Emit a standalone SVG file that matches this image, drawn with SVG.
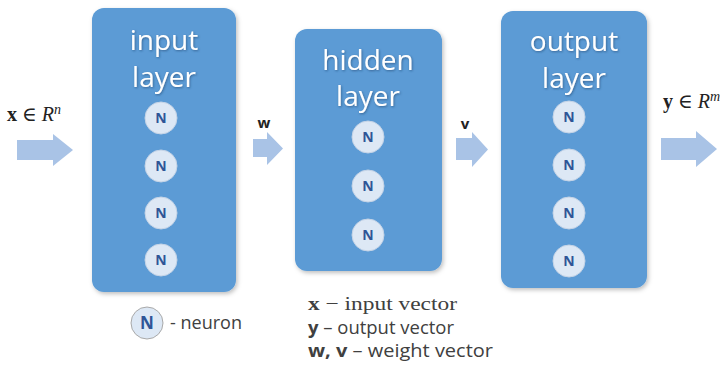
<svg xmlns="http://www.w3.org/2000/svg" width="722" height="367" viewBox="0 0 722 367">
<defs>
<filter id="sh" x="-10%" y="-10%" width="130%" height="130%"><feDropShadow dx="1.5" dy="2" stdDeviation="2" flood-color="#000" flood-opacity="0.25"/></filter>
<filter id="tsh" x="-10%" y="-10%" width="130%" height="140%"><feDropShadow dx="0.8" dy="1" stdDeviation="0.8" flood-color="#1f3f6a" flood-opacity="0.6"/></filter>
<style>
.box{fill:#5b9bd5;filter:url(#sh)}
.title{font-family:"Open Sans","Noto Sans",sans-serif;font-size:28px;fill:#ffffff;text-anchor:middle;filter:url(#tsh)}
.nc{fill:#dde8f5;stroke:#c4d3e6;stroke-width:1}
.nt{font-family:"Open Sans","Noto Sans",sans-serif;font-size:14px;font-weight:bold;fill:#2f5597;text-anchor:middle}
.arr{fill:#a9c3e6}
.math{font-family:"Liberation Serif","DejaVu Serif",serif;font-size:20px;fill:#222}
.lbl{font-family:"Open Sans","Noto Sans",sans-serif;font-size:15px;font-weight:bold;fill:#222;text-anchor:middle}
.leg{font-family:"Open Sans","Noto Sans",sans-serif;font-size:18px;fill:#404040}
.legm{font-family:"Liberation Serif","DejaVu Serif",serif;font-size:19px;fill:#404040}
</style>
</defs>
<rect width="722" height="367" fill="#ffffff"/>

<g id="connectors">
<path class="arr" d="M17,140 H53 V134 L73,150 L53,166 V160 H17 Z"/>
<path class="arr" d="M253,139 H267 V132 L283,148.5 L267,165 V157 H253 Z"/>
<path class="arr" d="M456,138 H472 V132 L488,149.5 L472,167 V160 H456 Z"/>
<path class="arr" d="M661,138 H696 V131 L717,149 L696,167 V160 H661 Z"/>
<text class="math" x="7" y="121"><tspan font-weight="bold">x</tspan> ∈ <tspan font-style="italic">R</tspan><tspan font-style="italic" font-size="14" dy="-7">n</tspan></text>
<text class="lbl" x="264" y="128">w</text>
<text class="lbl" x="465" y="129">v</text>
<text class="math" x="663" y="108"><tspan font-weight="bold">y</tspan> ∈ <tspan font-style="italic">R</tspan><tspan font-style="italic" font-size="14" dy="-7">m</tspan></text>
</g>

<g id="input-layer">
<rect class="box" x="92" y="8" width="144" height="284" rx="12"/>
<text class="title" x="164" y="50">input</text>
<text class="title" x="164" y="87">layer</text>
<circle class="nc" cx="161" cy="118" r="16"/><text class="nt" x="161" y="123">N</text>
<circle class="nc" cx="161" cy="166" r="16"/><text class="nt" x="161" y="171">N</text>
<circle class="nc" cx="161" cy="213" r="16"/><text class="nt" x="161" y="218">N</text>
<circle class="nc" cx="161" cy="260" r="16"/><text class="nt" x="161" y="265">N</text>
</g>

<g id="hidden-layer">
<rect class="box" x="295" y="29" width="147" height="242" rx="12"/>
<text class="title" x="368" y="70">hidden</text>
<text class="title" x="368" y="106">layer</text>
<circle class="nc" cx="368" cy="137" r="16"/><text class="nt" x="368" y="142">N</text>
<circle class="nc" cx="368" cy="186" r="16"/><text class="nt" x="368" y="191">N</text>
<circle class="nc" cx="368" cy="235" r="16"/><text class="nt" x="368" y="240">N</text>
</g>

<g id="output-layer">
<rect class="box" x="501" y="11" width="146" height="277" rx="12"/>
<text class="title" x="574" y="51">output</text>
<text class="title" x="574" y="88">layer</text>
<circle class="nc" cx="569" cy="117" r="16"/><text class="nt" x="569" y="122">N</text>
<circle class="nc" cx="569" cy="165" r="16"/><text class="nt" x="569" y="170">N</text>
<circle class="nc" cx="569" cy="213" r="16"/><text class="nt" x="569" y="218">N</text>
<circle class="nc" cx="569" cy="261" r="16"/><text class="nt" x="569" y="266">N</text>
</g>

<g id="legend-neuron">
<circle cx="147" cy="323" r="16" fill="#dde8f5" stroke="#a9a9a9" stroke-width="1"/>
<text class="nt" x="147" y="329" style="font-size:17px">N</text>
<text class="leg" x="170" y="329" textLength="72" lengthAdjust="spacingAndGlyphs">- neuron</text>
</g>

<g id="legend-vectors">
<text class="legm" x="308" y="310" textLength="149" lengthAdjust="spacingAndGlyphs"><tspan font-weight="bold">x</tspan>  − input vector</text>
<text class="leg" x="308" y="334" textLength="146" lengthAdjust="spacingAndGlyphs"><tspan font-weight="bold">y</tspan> – output vector</text>
<text class="leg" x="308" y="357" textLength="185" lengthAdjust="spacingAndGlyphs"><tspan font-weight="bold">w, v</tspan> – weight vector</text>
</g>
</svg>
